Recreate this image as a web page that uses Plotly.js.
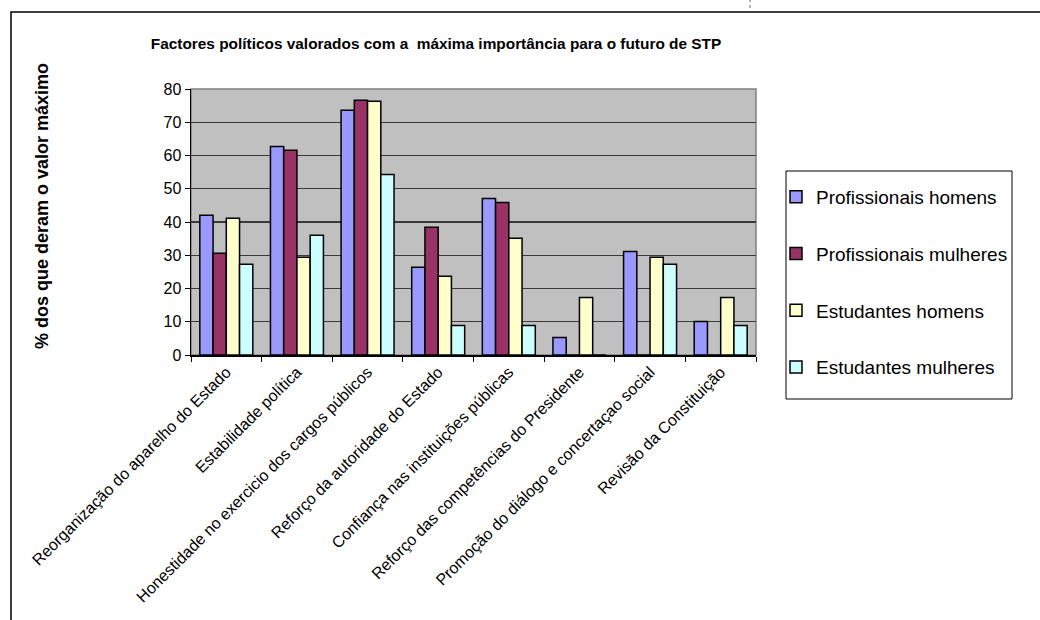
<!DOCTYPE html>
<html>
<head>
<meta charset="utf-8">
<script src="https://cdn.plot.ly/plotly-3.0.1.min.js"></script>
<style>html,body{margin:0;padding:0;background:#fff;}#chart{width:1040px;height:620px;}</style>
</head>
<body>
<div id="chart"></div>
<script>
const categories = [
  "Reorganização do aparelho do Estado",
  "Estabilidade política",
  "Honestidade no exercicio dos cargos públicos",
  "Reforço da autoridade do Estado",
  "Confiança nas instituições públicas",
  "Reforço das competências do Presidente",
  "Promoção do diálogo e concertaçao social",
  "Revisão da Constituição"
];
const seriesNames = ["Profissionais homens", "Profissionais mulheres", "Estudantes homens", "Estudantes mulheres"];
const profHomens   = [42.0, 62.7, 73.6, 26.4, 47.1, 5.3, 31.1, 10.1];
const profMulheres = [30.6, 61.6, 76.6, 38.4, 45.9, 0, 0, 0];
const estHomens    = [41.1, 29.4, 76.3, 23.7, 35.1, 17.3, 29.4, 17.3];
const estMulheres  = [27.3, 36.0, 54.3, 8.9, 8.9, 0, 27.3, 8.9];
const colors = ["#9999FF", "#993366", "#FFFFCC", "#CCFFFF"];
const allSeries = [profHomens, profMulheres, estHomens, estMulheres];

const traces = allSeries.map((vals, i) => ({
  type: "bar",
  name: seriesNames[i],
  x: categories,
  y: vals,
  legendgroup: "g" + i,
  marker: {color: colors[i], line: {color: "#000", width: 1.5}},
  hoverinfo: "x+y+name"
}));

const L = 191, R = 756, T = 89, B = 355;
const W = R - L, H = B - T;
const px = v => (v - L) / W;
const py = v => (B - v) / H;
const FONT = "Liberation Sans, Arial, sans-serif";

const layout = {
  width: 1040, height: 620,
  margin: {l: L, r: 1040 - R, t: T, b: 620 - B},
  paper_bgcolor: "#ffffff",
  plot_bgcolor: "#C0C0C0",
  font: {family: FONT, color: "#000"},
  title: {
    text: "<b>Factores políticos valorados com a  máxima importância para o futuro de STP</b>",
    font: {size: 15.4, family: FONT, color: "#000"},
    x: 436 / 1040, xanchor: "center", xref: "container",
    y: 1 - 44 / 620, yanchor: "middle", yref: "container"
  },
  barmode: "group",
  bargap: 0.25,
  bargroupgap: 0,
  xaxis: {
    type: "category",
    tickangle: -45,
    tickfont: {size: 16},
    ticks: "outside", tickson: "boundaries", ticklen: 5, tickcolor: "#000",
    showline: true, linecolor: "#000", linewidth: 1.5,
    showgrid: false, automargin: false
  },
  yaxis: {
    range: [0, 80],
    dtick: 10,
    tickfont: {size: 16},
    ticks: "outside", ticklen: 5, tickcolor: "#000",
    showline: true, linecolor: "#000", linewidth: 1.5,
    showgrid: true, gridcolor: "#3a3a3a", gridwidth: 1.2,
    zeroline: false, automargin: false
  },
  legend: {
    x: px(776), xanchor: "left",
    y: py(178), yanchor: "top",
    bgcolor: "rgba(0,0,0,0)", borderwidth: 0,
    font: {size: 19},
    tracegroupgap: 29,
    itemwidth: 30
  },
  showlegend: true,
  annotations: [{
    text: "<b>% dos que deram o valor máximo</b>",
    textangle: -90,
    xref: "paper", yref: "paper",
    x: px(42), y: py(206),
    xanchor: "center", yanchor: "middle",
    showarrow: false,
    font: {size: 18}
  }],
  shapes: [
    {type: "rect", xref: "paper", yref: "paper", x0: 0, x1: 1, y0: 0, y1: 1,
     line: {color: "#808080", width: 1.5}, layer: "below"},
    {type: "rect", xref: "paper", yref: "paper",
     x0: px(786), x1: px(1012), y0: py(399), y1: py(171),
     line: {color: "#000", width: 1}, fillcolor: "#fff", layer: "below"},
    {type: "rect", xref: "paper", yref: "paper",
     x0: px(11), x1: px(1050), y0: py(640), y1: py(12),
     line: {color: "#000", width: 1.5}},
    {type: "line", xref: "paper", yref: "paper",
     x0: px(750), x1: px(750), y0: py(8), y1: py(0),
     line: {color: "#666", width: 1, dash: "dot"}}
  ]
};

Plotly.newPlot("chart", traces, layout, {displayModeBar: false, staticPlot: true});
</script>
</body>
</html>
